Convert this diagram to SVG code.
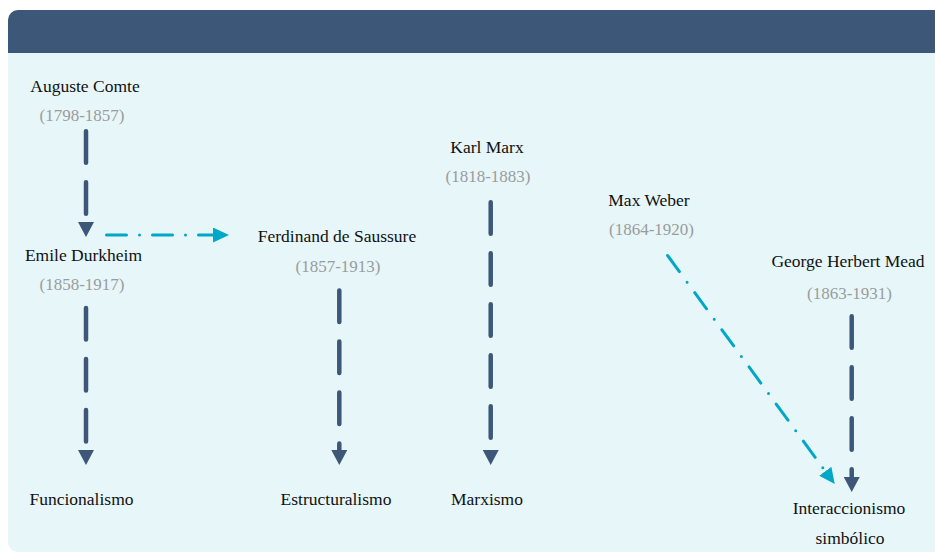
<svg xmlns="http://www.w3.org/2000/svg" width="935" height="553" viewBox="0 0 935 553">
<style>
.name{font-size:17.5px;fill:#111;text-anchor:middle}
.date{font-size:17px;fill:#9c9c9c;text-anchor:middle}
.dk{fill:none;stroke:#3d5779;stroke-width:4.5;stroke-linecap:round;stroke-dasharray:31.5 19.5}
.cy{fill:none;stroke:#00a7c6;stroke-width:3;stroke-linecap:round;stroke-dasharray:20 13 0 13}
</style>
<defs>
<clipPath id="panel"><rect x="8" y="10" width="960" height="542" rx="10"/></clipPath>
<marker id="ah-dk" markerUnits="userSpaceOnUse" markerWidth="16" markerHeight="16" refX="0" refY="8" orient="auto" viewBox="0 0 16 16"><path d="M0,0 L15,8 L0,16 z" fill="#3d5779"/></marker>
<marker id="ah-cy" markerUnits="userSpaceOnUse" markerWidth="16" markerHeight="15" refX="0" refY="7.5" orient="auto" viewBox="0 0 16 15"><path d="M0,0 L16,7.5 L0,15 z" fill="#00a7c6"/></marker>
</defs>
<g id="background" clip-path="url(#panel)">
<rect x="8" y="10" width="960" height="542" fill="#e6f6f9"/>
<rect x="8" y="10" width="960" height="43" fill="#3d5779"/>
</g>
<g id="connectors">
<path class="dk" d="M86,131.3 L86,222" marker-end="url(#ah-dk)"/>
<path class="dk" d="M86,308 L86,450" marker-end="url(#ah-dk)"/>
<path class="dk" d="M339.3,290.5 L339.3,450" marker-end="url(#ah-dk)"/>
<path class="dk" d="M490.7,202.3 L490.7,450" marker-end="url(#ah-dk)"/>
<path class="dk" d="M851.7,316.3 L851.7,477" marker-end="url(#ah-dk)"/>
<path class="cy" d="M106.5,235 L213,235" marker-end="url(#ah-cy)"/>
<path class="cy" d="M667.6,255.5 L825.3,471.2" marker-end="url(#ah-cy)"/>
</g>
<g id="labels" font-family="Liberation Serif, serif">
<g id="comte"><text class="name" x="85" y="92">Auguste Comte</text><text class="date" x="82" y="121">(1798-1857)</text></g>
<g id="durkheim"><text class="name" x="83.5" y="261">Emile Durkheim</text><text class="date" x="82" y="290">(1858-1917)</text></g>
<g id="saussure"><text class="name" x="337" y="241.5">Ferdinand de Saussure</text><text class="date" x="338" y="272">(1857-1913)</text></g>
<g id="marx"><text class="name" x="487" y="153">Karl Marx</text><text class="date" x="488" y="182">(1818-1883)</text></g>
<g id="weber"><text class="name" x="649" y="205.5">Max Weber</text><text class="date" x="651.5" y="234.5">(1864-1920)</text></g>
<g id="mead"><text class="name" x="848" y="267">George Herbert Mead</text><text class="date" x="849.5" y="298.5">(1863-1931)</text></g>
<g id="funcionalismo"><text class="name" x="81.5" y="505">Funcionalismo</text></g>
<g id="estructuralismo"><text class="name" x="336" y="505">Estructuralismo</text></g>
<g id="marxismo"><text class="name" x="487" y="505">Marxismo</text></g>
<g id="interaccionismo"><text class="name" x="849" y="514">Interaccionismo</text><text class="name" x="850" y="544">simbólico</text></g>
</g>
</svg>
